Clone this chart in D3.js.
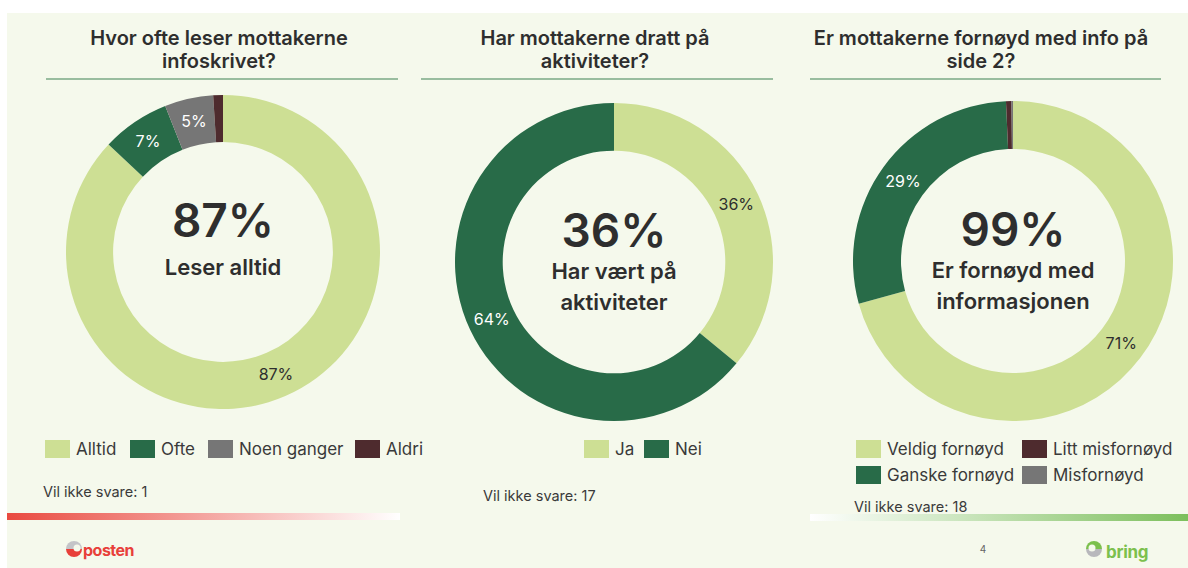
<!DOCTYPE html>
<html>
<head>
<meta charset="utf-8">
<script src="https://cdn.jsdelivr.net/npm/d3@7"></script>
<style>
    html, body { margin: 0; padding: 0; background: #ffffff; }
    svg { display: block; font-family: Inter, "Noto Sans", sans-serif; }
</style>
</head>
<body>
<div id="viz"></div>
<script>

// Chart 1
const readTitle = ["Hvor ofte leser mottakerne", "infoskrivet?"];
const readCats = ["Alltid", "Ofte", "Noen ganger", "Aldri"];
const readVals = [87, 7, 5, 1];
const readCenter = ["87%", "Leser alltid"];
const readMissing = "Vil ikke svare: 1";

// Chart 2
const visitTitle = ["Har mottakerne dratt på", "aktiviteter?"];
const visitCats = ["Ja", "Nei"];
const visitVals = [36, 64];
const visitCenter = ["36%", "Har vært på", "aktiviteter"];
const visitMissing = "Vil ikke svare: 17";

// Chart 3
const infoTitle = ["Er mottakerne fornøyd med info på", "side 2?"];
const infoCats = ["Veldig fornøyd", "Ganske fornøyd", "Litt misfornøyd", "Misfornøyd"];
const infoVals = [70.7, 28.6, 0.55, 0.15];
const infoCenter = ["99%", "Er fornøyd med", "informasjonen"];
const infoMissing = "Vil ikke svare: 18";

const pageNumber = "4";

const colorOf = {
    "Alltid": "#cddf94", "Ofte": "#286b48", "Noen ganger": "#767676", "Aldri": "#4e2b2e",
    "Ja": "#cddf94", "Nei": "#286b48",
    "Veldig fornøyd": "#cddf94", "Ganske fornøyd": "#286b48",
    "Litt misfornøyd": "#4e2b2e", "Misfornøyd": "#767676"
};
const lightCats = ["Alltid", "Ja", "Veldig fornøyd"];

const width = 1188, height = 568;
const textColor = "#2e2e2e";

const svg = d3.select("#viz").append("svg")
    .attr("width", width)
    .attr("height", height);

// slide background
svg.append("rect")
    .attr("x", 7).attr("y", 13)
    .attr("width", width - 7).attr("height", height - 13)
    .attr("fill", "#f5f9ec");

const defs = svg.append("defs");
const redGrad = defs.append("linearGradient").attr("id", "redGrad");
redGrad.append("stop").attr("offset", "0%").attr("stop-color", "#e94a40");
redGrad.append("stop").attr("offset", "100%").attr("stop-color", "#ffffff");
const greenGrad = defs.append("linearGradient").attr("id", "greenGrad");
greenGrad.append("stop").attr("offset", "0%").attr("stop-color", "#ffffff");
greenGrad.append("stop").attr("offset", "100%").attr("stop-color", "#7cbf5c");

const charts = [
    {title: readTitle, cats: readCats, vals: readVals, center: readCenter, missing: readMissing,
     titleX: 219, lineX: [46, 398], cx: 223, cy: 252, r: 157,
     legendX: 45, legendCols: 4, legendGaps: [0, 85, 163, 310], missingX: 43, missingY: 497},
    {title: visitTitle, cats: visitCats, vals: visitVals, center: visitCenter, missing: visitMissing,
     titleX: 595, lineX: [421, 773], cx: 614, cy: 262, r: 159,
     legendX: 584, legendCols: 2, legendGaps: [0, 60], missingX: 483, missingY: 501},
    {title: infoTitle, cats: infoCats, vals: infoVals, center: infoCenter, missing: infoMissing,
     titleX: 981, lineX: [810, 1161], cx: 1013, cy: 261, r: 160,
     legendX: 856, legendCols: 2, legendGaps: [0, 166], missingX: 854, missingY: 512}
];

const pie = d3.pie().sort(null).value(d => d.value);

charts.forEach(function(c) {
    const g = svg.append("g");

    // title
    g.append("text")
        .attr("x", c.titleX)
        .attr("y", 45)
        .attr("text-anchor", "middle")
        .attr("font-size", 20)
        .attr("font-weight", 600)
        .attr("fill", textColor)
        .selectAll("tspan")
        .data(c.title)
        .enter().append("tspan")
        .attr("x", c.titleX)
        .attr("dy", (d, i) => i == 0 ? 0 : 23)
        .text(d => d);

    g.append("line")
        .attr("x1", c.lineX[0]).attr("x2", c.lineX[1])
        .attr("y1", 79).attr("y2", 79)
        .attr("stroke", "#7aa886")
        .attr("stroke-width", 1.5);

    // donut
    const data = c.cats.map((cat, i) => ({cat: cat, value: c.vals[i]}));
    const arcs = pie(data);
    const arc = d3.arc().innerRadius(c.r * 0.70).outerRadius(c.r);
    const labelArc = d3.arc().innerRadius(c.r * 0.85).outerRadius(c.r * 0.85);

    const donut = g.append("g").attr("transform", "translate(" + c.cx + "," + c.cy + ")");

    donut.selectAll("path")
        .data(arcs)
        .enter().append("path")
        .attr("d", arc)
        .attr("fill", d => colorOf[d.data.cat]);

    donut.selectAll(".slice-label")
        .data(arcs.filter(d => d.data.value >= 3))
        .enter().append("text")
        .attr("class", "slice-label")
        .attr("transform", d => "translate(" + labelArc.centroid(d) + ")")
        .attr("text-anchor", "middle")
        .attr("dy", "0.35em")
        .attr("font-size", 16)
        .attr("fill", d => lightCats.includes(d.data.cat) ? textColor : "#ffffff")
        .text(d => Math.round(d.data.value) + "%");

    // center text
    donut.append("text")
        .attr("y", -15)
        .attr("text-anchor", "middle")
        .attr("font-size", 46)
        .attr("font-weight", 600)
        .attr("fill", textColor)
        .text(c.center[0]);

    donut.selectAll(".center-sub")
        .data(c.center.slice(1))
        .enter().append("text")
        .attr("class", "center-sub")
        .attr("y", (d, i) => (c.center.length > 2 ? 17 : 23) + i * 31)
        .attr("text-anchor", "middle")
        .attr("font-size", 22)
        .attr("font-weight", 600)
        .attr("fill", textColor)
        .text(d => d);

    // legend
    const legend = g.selectAll(".legend")
        .data(c.cats)
        .enter().append("g")
        .attr("class", "legend")
        .attr("transform", function(d, i) {
            let col, row;
            if (c.cats.length > 2 && c.legendCols == 2) {
                col = Math.floor(i / 2);
                row = i % 2;
            } else {
                col = i;
                row = 0;
            }
            return "translate(" + (c.legendX + c.legendGaps[col]) + "," + (440 + row * 26) + ")";
        });

    legend.append("rect")
        .attr("width", 25)
        .attr("height", 18)
        .attr("fill", d => colorOf[d]);

    legend.append("text")
        .attr("x", 31)
        .attr("y", 9)
        .attr("dy", "0.35em")
        .attr("font-size", 17)
        .attr("fill", "#3a3a3a")
        .text(d => d);

    g.append("text")
        .attr("x", c.missingX)
        .attr("y", c.missingY)
        .attr("font-size", 14.5)
        .attr("fill", "#3a3a3a")
        .text(c.missing);
});

// gradient bars
svg.append("rect")
    .attr("x", 7).attr("y", 513)
    .attr("width", 393).attr("height", 7)
    .attr("fill", "url(#redGrad)");
svg.append("rect")
    .attr("x", 810).attr("y", 514)
    .attr("width", 378).attr("height", 7)
    .attr("fill", "url(#greenGrad)");

// page number
svg.append("text")
    .attr("x", 983).attr("y", 553)
    .attr("text-anchor", "middle")
    .attr("font-size", 10)
    .attr("fill", "#666")
    .text(pageNumber);

// posten logo
const posten = svg.append("g").attr("transform", "translate(74,549)");
posten.append("path").attr("d", d3.arc()({innerRadius: 0, outerRadius: 8, startAngle: -Math.PI / 2, endAngle: Math.PI / 2})).attr("fill", "#c4c4c8");
posten.append("path").attr("d", d3.arc()({innerRadius: 0, outerRadius: 8, startAngle: Math.PI / 2, endAngle: 3 * Math.PI / 2})).attr("fill", "#e8403a");
posten.append("circle").attr("cx", 3).attr("cy", -1).attr("r", 3.5).attr("fill", "#f5f9ec");
svg.append("text")
    .attr("x", 83).attr("y", 556)
    .attr("font-size", 16)
    .attr("font-weight", 700)
    .attr("letter-spacing", -0.5)
    .attr("fill", "#e8403a")
    .text("posten");

// bring logo
const bring = svg.append("g").attr("transform", "translate(1094,549)");
bring.append("path").attr("d", d3.arc()({innerRadius: 0, outerRadius: 8, startAngle: -Math.PI / 2, endAngle: Math.PI / 2})).attr("fill", "#7cc04e");
bring.append("path").attr("d", d3.arc()({innerRadius: 0, outerRadius: 8, startAngle: Math.PI / 2, endAngle: 3 * Math.PI / 2})).attr("fill", "#b8b8bc");
bring.append("circle").attr("cx", -2).attr("cy", -1).attr("r", 3.5).attr("fill", "#f5f9ec");
svg.append("text")
    .attr("x", 1106).attr("y", 558)
    .attr("font-size", 17)
    .attr("font-weight", 700)
    .attr("letter-spacing", -0.3)
    .attr("fill", "#7cc04e")
    .text("bring");

</script>
</body>
</html>
